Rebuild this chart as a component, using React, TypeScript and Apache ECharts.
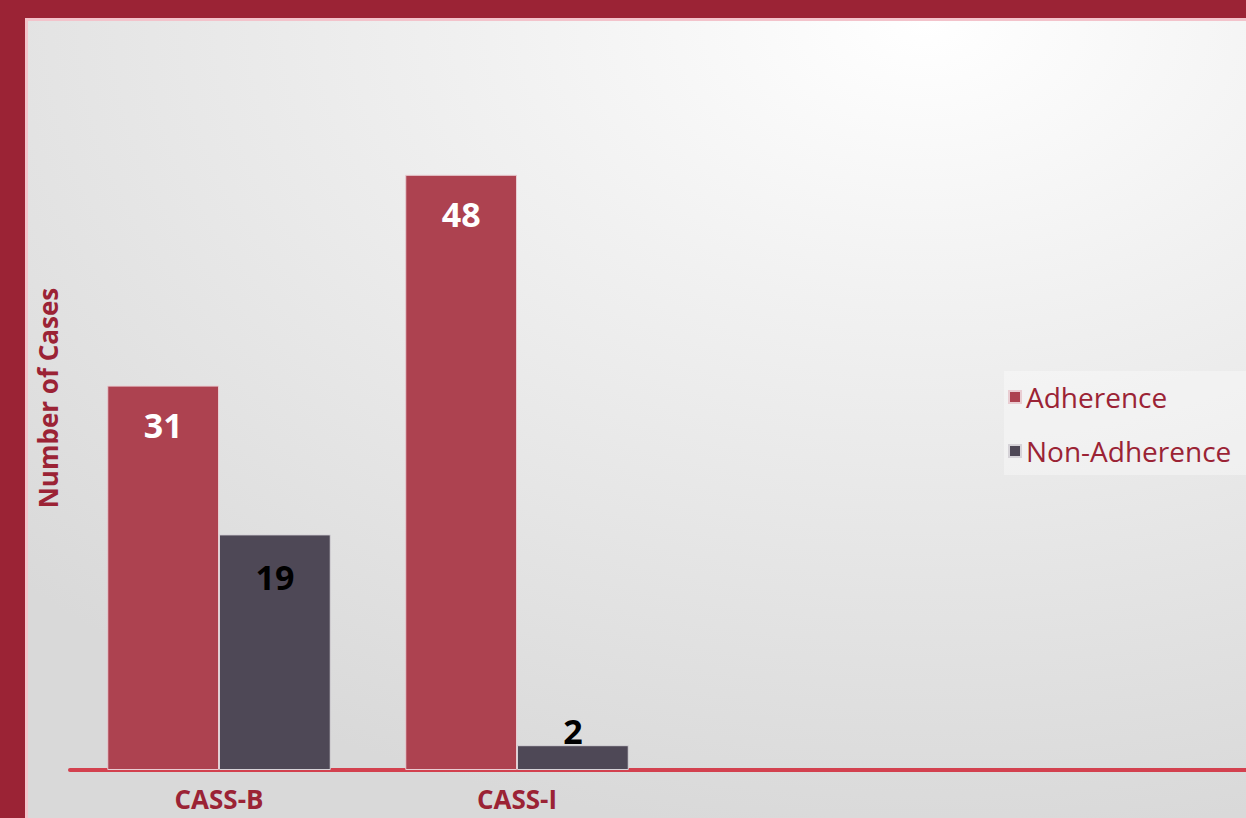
import React, { useEffect, useRef } from "react";
import * as echarts from "echarts";

const categories = ["CASS-B", "CASS-I", "", ""];
const adherence = [31, 48, null, null];
const nonAdherence = [19, 2, null, null];
const seriesNames = ["Adherence", "Non-Adherence"];
const yAxisTitle = "Number of Cases";

const W = 1246;
const H = 818;

export default function App() {
  const ref = useRef<HTMLDivElement>(null);
  useEffect(() => {
    if (!ref.current) return;
    const chart = echarts.init(ref.current, null, { renderer: "svg" });
    const red = "#9B2335";
    const nonLabels = nonAdherence.map((v) =>
      v === null
        ? v
        : {
            value: v,
            label: {
              position: v < 5 ? "top" : "insideTop",
              distance: v < 5 ? -3 : 26,
            },
          }
    );
    chart.setOption({
      animation: false,
      graphic: [
        { type: "rect", z: -10, silent: true, shape: { x: 0, y: 0, width: W, height: H }, style: { fill: "#9B2335" } },
        { type: "rect", z: -9, silent: true, shape: { x: 25, y: 18, width: W, height: H }, style: { fill: "#F3C3CB" } },
        {
          type: "rect",
          z: -8,
          silent: true,
          shape: { x: 28, y: 21, width: W, height: H },
          style: {
            fill: new echarts.graphic.RadialGradient(0.72, 0.0, 1.0, [
              { offset: 0, color: "#ffffff" },
              { offset: 0.35, color: "#f1f1f1" },
              { offset: 1, color: "#d9d9d9" },
            ]),
          },
        },
        {
          type: "rect",
          z: -7,
          silent: true,
          shape: { x: 1004, y: 371, width: 250, height: 104 },
          style: { fill: "rgba(255,255,255,0.35)" },
        },
      ],
      grid: { left: 70, top: 26, width: 1192, bottom: 48, containLabel: false, outerBoundsMode: "none" },
      legend: {
        orient: "vertical",
        left: 1002,
        top: 383,
        itemWidth: 12,
        itemHeight: 12,
        itemGap: 26,
        icon: "rect",
        data: seriesNames,
        textStyle: { color: red, fontSize: 28, fontFamily: "Open Sans" },
        padding: [0, 0, 0, 6],
      },
      xAxis: {
        type: "category",
        data: categories,
        axisTick: { show: false },
        axisLine: { lineStyle: { color: "#D3414F", width: 4 } },
        axisLabel: { color: red, fontSize: 26, fontWeight: "bold", fontFamily: "Open Sans", margin: 16 },
      },
      yAxis: {
        type: "value",
        min: 0,
        max: 60,
        splitLine: { show: false },
        axisLine: { show: false },
        axisTick: { show: false },
        axisLabel: { show: false },
        name: yAxisTitle,
        nameLocation: "middle",
        nameGap: 9,
        nameRotate: 90,
        nameTextStyle: { color: red, fontSize: 26, fontWeight: "bold", fontFamily: "Open Sans" },
      },
      series: [
        {
          name: seriesNames[0],
          type: "bar",
          data: adherence,
          barGap: "0%",
          barCategoryGap: "25%",
          itemStyle: { color: "#AD4250", borderColor: "#E9CDD2", borderWidth: 1 },
          label: {
            show: true,
            position: "insideTop",
            distance: 22,
            color: "#ffffff",
            fontSize: 34,
            fontWeight: "bold",
            fontFamily: "Open Sans",
          },
        },
        {
          name: seriesNames[1],
          type: "bar",
          data: nonLabels,
          itemStyle: { color: "#4E4856", borderColor: "#D6D3D8", borderWidth: 1 },
          label: {
            show: true,
            position: "insideTop",
            distance: 26,
            color: "#000000",
            fontSize: 34,
            fontWeight: "bold",
            fontFamily: "Open Sans",
          },
        },
      ],
    });
    return () => chart.dispose();
  }, []);
  return <div ref={ref} style={{ position: "absolute", left: 0, top: 0, width: W, height: H }} />;
}
